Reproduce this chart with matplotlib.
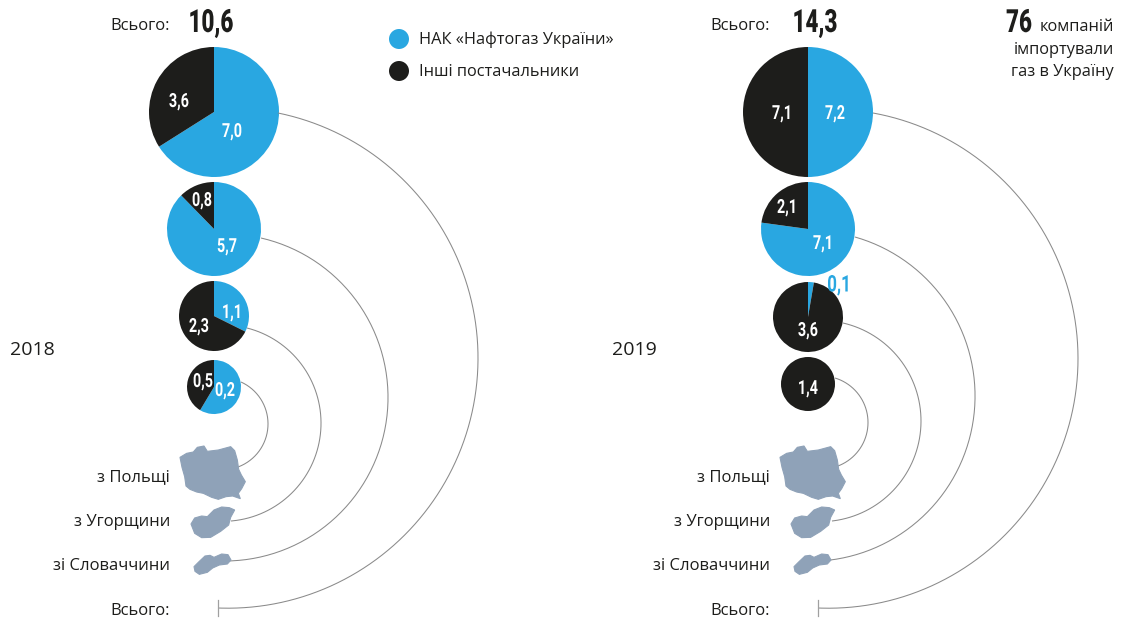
import numpy as np
import matplotlib
matplotlib.use("Agg")
import matplotlib.pyplot as plt
from matplotlib.patches import Polygon, Circle
from matplotlib.patheffects import AbstractPathEffect
from matplotlib.transforms import Affine2D

# ---------- data ----------
years = ["2018", "2019"]
sources = ["з Польщі", "з Угорщини", "зі Словаччини", "Всього:"]
totals = ["10,6", "14,3"]

# wedge shares as seen in the picture, order: total, Slovakia, Hungary, Poland
nak_2018 = [7.0, 5.7, 1.1, 0.41]
other_2018 = [3.6, 0.8, 2.3, 0.29]
nak_2019 = [7.15, 7.1, 0.1, 0.0]
other_2019 = [7.15, 2.1, 3.6, 1.4]

# printed labels
nak_labels_2018 = ["7,0", "5,7", "1,1", "0,2"]
other_labels_2018 = ["3,6", "0,8", "2,3", "0,5"]
nak_labels_2019 = ["7,2", "7,1", "0,1", ""]
other_labels_2019 = ["7,1", "2,1", "3,6", "1,4"]

legend_labels = ["НАК «Нафтогаз України»", "Інші постачальники"]

# ---------- style / layout ----------
BLUE = "#29a7e1"
BLACK = "#1d1d1b"
MAP = "#8fa2b8"
LINE = "#8a8a8a"
TEXT = "#1d1d1b"
SANS = ["Open Sans", "DejaVu Sans"]
H = 619


def Y(y):
    return H - y


class Squeeze(AbstractPathEffect):
    """Narrow a text horizontally around a pixel x (no condensed face is installed)."""

    def __init__(self, cx, sx):
        super().__init__()
        self.cx, self.sx = cx, sx

    def draw_path(self, renderer, gc, tpath, affine, rgbFace=None):
        t = affine + Affine2D().translate(-self.cx, 0).scale(self.sx, 1).translate(self.cx, 0)
        renderer.draw_path(gc, tpath, t, rgbFace)


def narrow(x, y, s, color, size, weight, sx=0.74):
    ax.text(x, Y(y), s, color=color, fontsize=size, family="Roboto", weight=weight,
            ha="center", va="center", path_effects=[Squeeze(x, sx)])


fig = plt.figure(figsize=(11.28, 6.19), dpi=100)
ax = fig.add_axes([0, 0, 1, 1])

radii = [65, 47, 35, 27]
centers_2018 = [(214, 112), (214, 229), (214, 316), (214, 387)]
centers_2019 = [(808, 112), (808, 229), (808, 317), (808, 384)]

for cs, a, b in [(centers_2018, nak_2018, other_2018), (centers_2019, nak_2019, other_2019)]:
    for (cx, cy), r, v1, v2 in zip(cs, radii, a, b):
        ax.pie([v1, v2], colors=[BLUE, BLACK], startangle=90, counterclock=False,
               center=(cx, Y(cy)), radius=r, frame=True,
               wedgeprops=dict(linewidth=0))

# pie labels (x, y in px)
lab_pos_nak_2018 = [(232, 132), (227, 247), (232, 313), (225, 391)]
lab_pos_oth_2018 = [(179, 102), (202, 201), (199, 327), (203, 382)]
lab_pos_nak_2019 = [(835, 114), (823, 244), None, None]
lab_pos_oth_2019 = [(782, 114), (787, 208), (808, 331), (808, 389)]
for labs, poss in [(nak_labels_2018, lab_pos_nak_2018), (other_labels_2018, lab_pos_oth_2018),
                   (nak_labels_2019, lab_pos_nak_2019), (other_labels_2019, lab_pos_oth_2019)]:
    for s, p in zip(labs, poss):
        if p is not None and s:
            narrow(p[0], p[1], s, "white", 14, "bold")
narrow(839, 285, nak_labels_2019[2], BLUE, 16.5, "bold")


# connecting arcs: circle through start, apex, end
def arc(p1, p2, p3):
    (x1, y1), (x2, y2), (x3, y3) = p1, p2, p3
    A = np.array([[x2 - x1, y2 - y1], [x3 - x1, y3 - y1]], float) * 2
    b = np.array([x2**2 - x1**2 + y2**2 - y1**2, x3**2 - x1**2 + y3**2 - y1**2], float)
    cx, cy = np.linalg.solve(A, b)
    R = np.hypot(x1 - cx, y1 - cy)
    t1 = np.arctan2(y1 - cy, x1 - cx)
    t3 = np.arctan2(y3 - cy, x3 - cx)
    t = np.linspace(t1, t3, 200)
    ax.plot(cx + R * np.cos(t), Y(cy + R * np.sin(t)), color=LINE, lw=0.75,
            solid_capstyle="butt", zorder=1)


arcs = [
    ((278, 113), (478, 360), (218, 608)),
    ((261, 238), (388, 400), (222, 561)),
    ((247, 328), (321, 425), (231, 521)),
    ((241, 382), (268, 425), (238, 467)),
    ((873, 113), (1078, 360), (818, 608)),
    ((855, 237), (975, 400), (820, 561)),
    ((843, 323), (921, 422), (832, 521)),
    ((835, 378), (868, 422), (835, 467)),
]
for a in arcs:
    arc(*a)

# country silhouettes (zoomed px / 3 + offset)
poland = [(270, 82), (290, 70), (310, 66), (322, 52), (342, 48), (352, 64), (385, 60), (422, 50),
          (434, 62), (442, 90), (446, 118), (454, 135), (466, 155), (455, 176), (445, 190), (451, 206),
          (428, 198), (408, 200), (385, 208), (365, 202), (340, 190), (320, 186), (300, 178), (288, 168),
          (284, 140), (276, 112)]
hungary = [(303, 282), (314, 264), (335, 258), (352, 260), (372, 240), (395, 231), (418, 233),
           (434, 240), (422, 262), (416, 285), (392, 304), (362, 322), (335, 323), (314, 310)]
slovakia = [(312, 410), (326, 396), (345, 378), (360, 376), (372, 382), (395, 372), (414, 374),
            (423, 390), (412, 402), (388, 405), (368, 414), (352, 427), (328, 433), (315, 424)]
for ox in (0, 600):
    for shape in (poland, hungary, slovakia):
        pts = [(x / 3 + 90 + ox, Y(y / 3 + 430)) for x, y in shape]
        ax.add_patch(Polygon(pts, closed=True, fc=MAP, ec=MAP, lw=0.8, zorder=2))
    ax.plot([218 + ox, 218 + ox], [Y(600), Y(616)], color="#a0a0a0", lw=0.9)

# source labels
src_y = [477, 522, 566, 611]
for ox in (0, 600):
    for s, y in zip(sources, src_y):
        ax.text(170 + ox, Y(y), s, family=SANS, fontsize=12, color=TEXT, ha="right", va="center")
    ax.text(170 + ox, Y(26), sources[3], family=SANS, fontsize=12, color=TEXT, ha="right", va="center")

narrow(211, 23, totals[0], BLACK, 23, "black", 0.7)
narrow(815, 23, totals[1], BLACK, 23, "black", 0.7)

ax.text(10, Y(350), years[0], family=SANS, fontsize=14, color=TEXT, ha="left", va="center")
ax.text(612, Y(350), years[1], family=SANS, fontsize=14, color=TEXT, ha="left", va="center")

# legend
for (y, c, s) in zip((39, 71), (BLUE, BLACK), legend_labels):
    ax.add_patch(Circle((399, Y(y)), 10, fc=c, ec="none"))
    ax.text(419, Y(y + 1), s, family=SANS, fontsize=11.8, color=TEXT, ha="left", va="center")

# note
narrow(1019, 23, "76", BLACK, 23, "black", 0.7)
ax.text(1114, Y(27), "компаній", family=SANS, fontsize=11.8, weight="medium", color=TEXT, ha="right", va="center")
ax.text(1114, Y(50), "імпортували", family=SANS, fontsize=11.8, weight="medium", color=TEXT, ha="right", va="center")
ax.text(1114, Y(72), "газ в Україну", family=SANS, fontsize=11.8, weight="medium", color=TEXT, ha="right", va="center")

ax.set_xlim(0, 1128)
ax.set_ylim(0, H)
ax.set_aspect("equal")
ax.axis("off")
fig.savefig("out.png", dpi=100)
